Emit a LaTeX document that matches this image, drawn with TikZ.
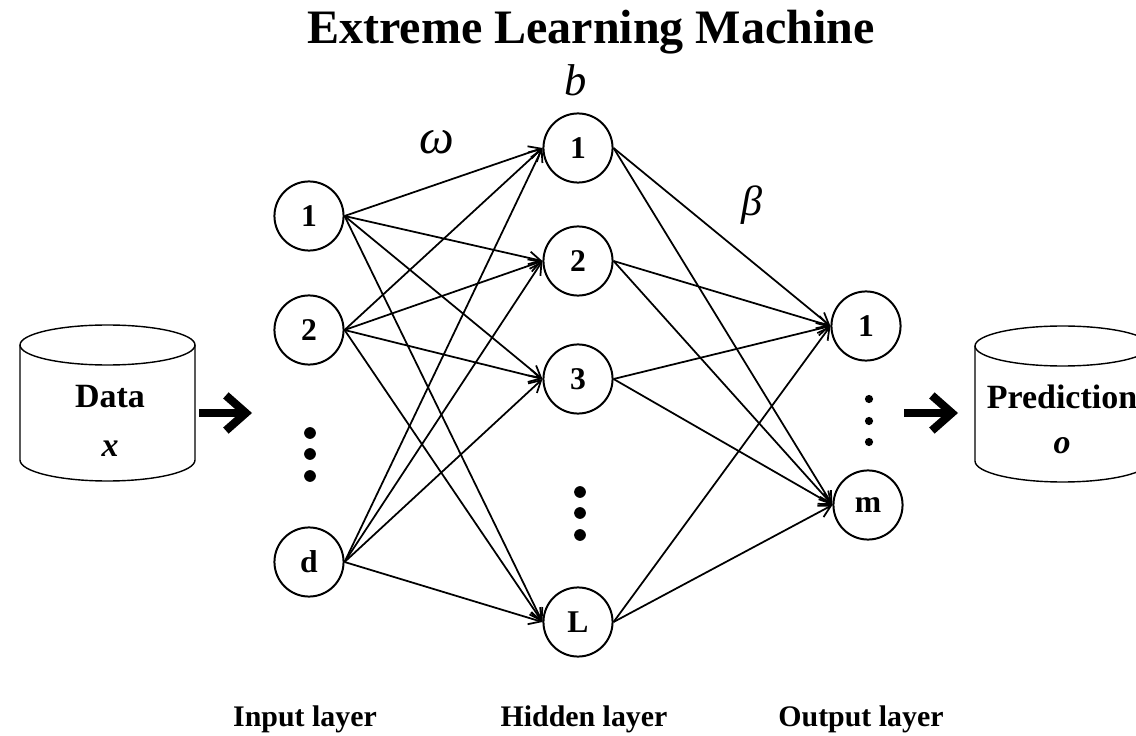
\documentclass[tikz,border=0pt]{standalone}
\usepackage{fontspec}
\setmainfont{Liberation Serif}
\usetikzlibrary{arrows.meta}
\tikzset{
  neuron/.style={draw,circle,line width=1.7pt,minimum size=59pt,inner sep=0pt,font=\fontsize{27}{27}\selectfont\bfseries},
  link/.style={-{Straight Barb[length=10pt,width=11pt]},line width=1.5pt},
  bigarrow/.style={-{Straight Barb[length=17pt,width=30pt,line width=7pt]},line width=6.5pt},
  dbtext/.style={font=\fontsize{29}{29}\selectfont\bfseries},
  layertext/.style={font=\fontsize{25.5}{25.5}\selectfont\bfseries},
  dotmark/.style={circle,fill=black,inner sep=0pt,minimum size=10pt}
}
\begin{document}
\begin{tikzpicture}[x=0.03cm,y=-0.03cm]
  \useasboundingbox (0,0) rectangle (1136,736);
  \clip (0,0) rectangle (1136,736);
  \node[font=\fontsize{41}{41}\selectfont\bfseries] (title) at (591,32) {Extreme Learning Machine};
  % cylinders
  \draw[line width=1.2pt] (20,345) arc[start angle=180,end angle=-180,x radius=87.5,y radius=20];
  \draw[line width=1.2pt] (20,345) -- (20,460) arc[start angle=180,end angle=0,x radius=87.5,y radius=21] -- (195,345);
  \draw[line width=1.2pt] (975,346) arc[start angle=180,end angle=-180,x radius=87.5,y radius=20];
  \draw[line width=1.2pt] (975,346) -- (975,461) arc[start angle=180,end angle=0,x radius=87.5,y radius=21] -- (1150,346);
  \node[dbtext] (data) at (110,397) {Data};
  \node[dbtext] (datax) at (110,449) {\textit{x}};
  \node[dbtext] (pred) at (1062,397) {Prediction};
  \node[dbtext] (predo) at (1062,446) {\textit{o}};
  % input layer
  \node[neuron] (i1) at (309,216) {1};
  \node[neuron] (i2) at (309,330) {2};
  \node[neuron] (id) at (309,562) {d};
  % hidden layer
  \node[neuron] (h1) at (578,148) {1};
  \node[neuron] (h2) at (578,261) {2};
  \node[neuron] (h3) at (578,379) {3};
  \node[neuron] (hL) at (578,622) {L};
  % output layer
  \node[neuron] (o1) at (866,326) {1};
  \node[neuron] (om) at (868,505) {m};
  \foreach \a in {i1,i2,id}
    \foreach \b in {h1,h2,h3,hL}
      \draw[link] (\a.east) -- (\b.west);
  \foreach \a in {h1,h2,h3,hL}
    \foreach \b in {o1,om}
      \draw[link] (\a.east) -- (\b.west);
  % dots
  \foreach \y in {433,454,476}
    \node[dotmark] at (310,\y) {};
  \foreach \y in {492,513,535}
    \node[dotmark] at (580,\y) {};
  \foreach \y in {399,421,442}
    \node[dotmark,minimum size=7pt] at (869,\y) {};
  % big arrows
  \coordinate (a1) at (199,413);
  \coordinate (a2) at (252,413);
  \coordinate (b1) at (904,413);
  \coordinate (b2) at (958,413);
  \draw[bigarrow] (a1) -- (a2);
  \draw[bigarrow] (b1) -- (b2);
  % labels
  \node[font=\fontsize{42}{42}\selectfont\itshape] (w) at (437,142) {ω};
  \node[font=\fontsize{38}{38}\selectfont\itshape] (bias) at (576,80) {b};
  \node[font=\fontsize{36}{36}\selectfont\itshape] (beta) at (752,205) {β};
  \node[layertext] (inlab) at (305,719) {Input layer};
  \node[layertext] (hidlab) at (584,719) {Hidden layer};
  \node[layertext] (outlab) at (861,719) {Output layer};
\end{tikzpicture}
\end{document}
